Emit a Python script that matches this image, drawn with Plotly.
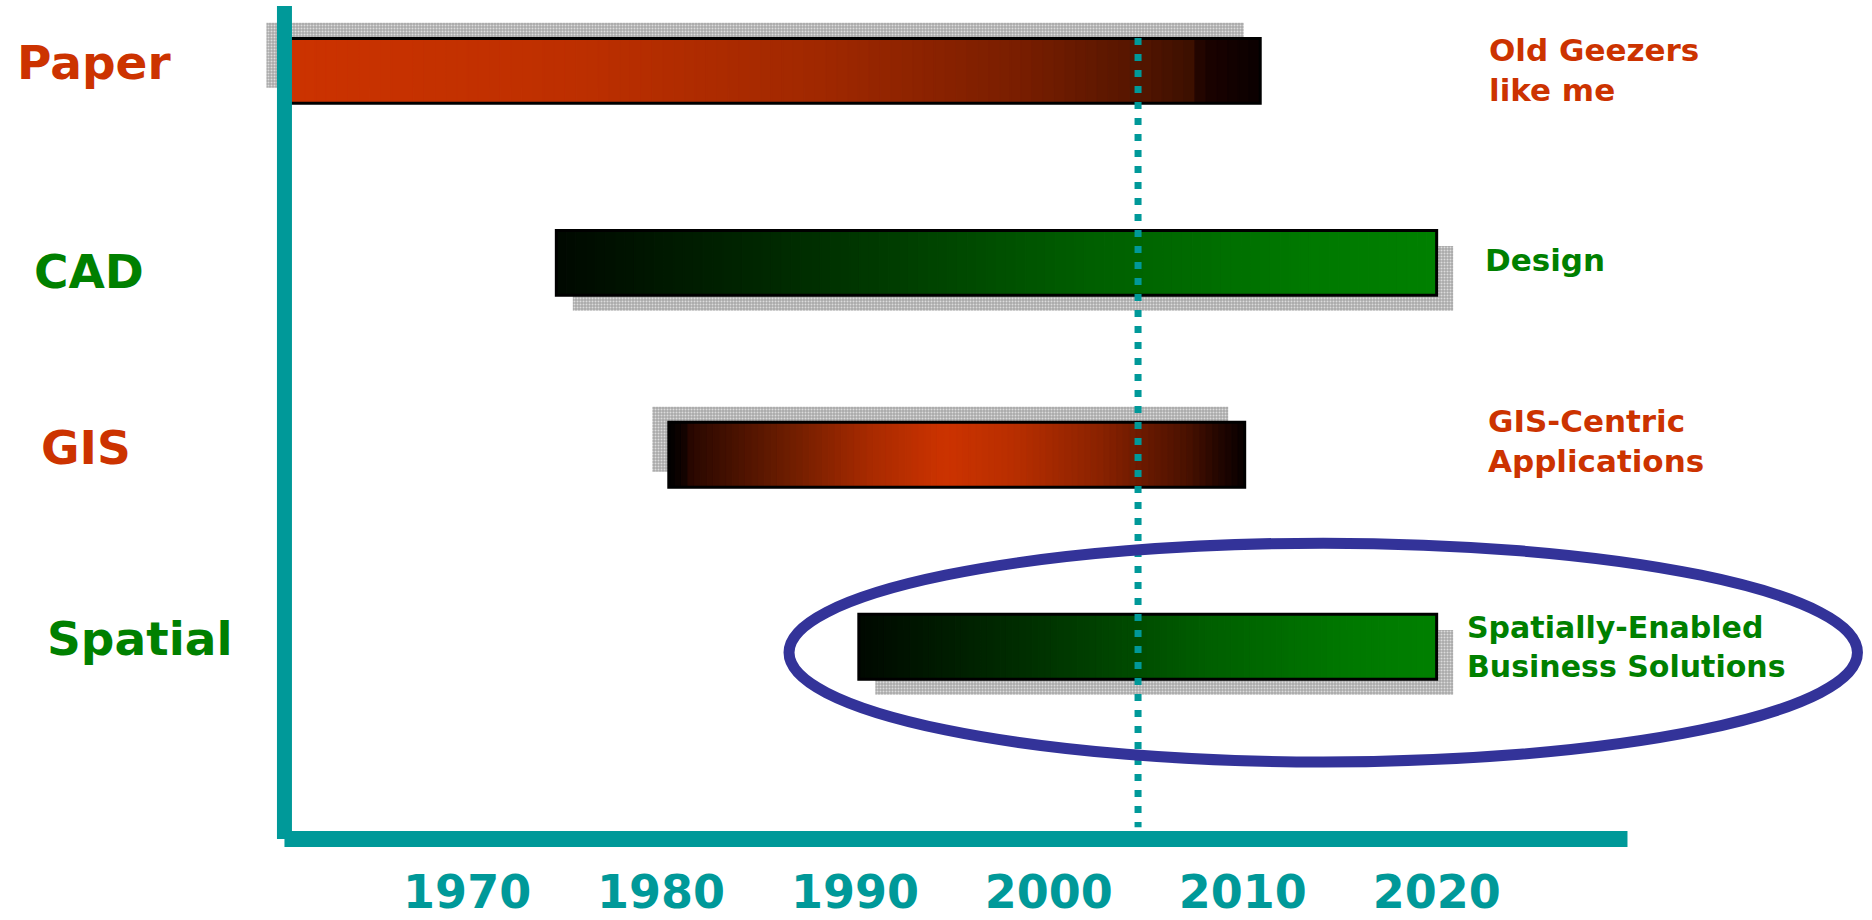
import numpy as np
import plotly.graph_objects as go
from plotly.colors import sample_colorscale

# ---------------- data ----------------
categories = ["Paper", "CAD", "GIS", "Spatial"]
start_year = [1960.5, 1974.6, 1980.4, 1990.2]
end_year = [2010.9, 2020.0, 2010.1, 2020.0]
descriptions = ["Old Geezers<br>like me", "Design",
                "GIS-Centric<br>Applications",
                "Spatially-Enabled<br>Business Solutions"]
tick_years = [1970, 1980, 1990, 2000, 2010, 2020]
tick_labels = ["1970", "1980", "1990", "2000", "2010", "2020"]
now_year = 2004.6

# ---------------- style ----------------
W, H = 1872, 920
RED, GREEN, TEAL, NAVY = "#CC3300", "#008000", "#009999", "#333399"
FONT = "DejaVu Sans"
X_RANGE = [1945.91, 2042.45]
Y_RANGE = [4.423, -0.369]          # reversed: first category on top
BAR_H = 0.338
SHADOW_DX, SHADOW_DY = 0.85, 0.081
shadow_dir = [-1, 1, -1, 1]
label_colors = [RED, GREEN, RED, GREEN]
left_x_px = [15, 32, 39, 45]
left_yshift = [8, -9, 7, 8]
right_x_px = [1487, 1483, 1486, 1465]
right_yshift = [1, 3, 14, 0]
right_size = [31, 31, 31, 30]
AXIS_X0, AXIS_X1 = 1960.58, 2029.84
AXIS_YTOP, AXIS_YBOT = -0.3375, 4.001
DOT_Y = [-0.171, 3.94]
ELLIPSE = dict(x0=1986.6, x1=2041.7, y0=2.46, y1=3.60)

red_to_black = [[0, "#CC3300"], [0.3, "#BD2F00"], [0.55, "#A02800"], [0.75, "#7A1E00"],
                [0.88, "#531500"], [0.935, "#3A0F00"], [0.94, "#1C0200"], [1, "#0A0000"]]
black_to_green = [[0, "#000800"], [0.3, "#003000"], [0.6, "#005E00"], [0.85, "#007800"],
                  [1, "#008000"]]
black_red_black = [[0, "#000000"], [0.03, "#140300"], [0.04, "#2A0800"], [0.2, "#6A1C00"],
                   [0.35, "#A82A00"], [0.48, "#CC3300"], [0.6, "#B82E00"], [0.75, "#8A2200"],
                   [0.9, "#4A1100"], [0.96, "#200500"], [1, "#080000"]]
gradients = [red_to_black, black_to_green, black_red_black, black_to_green]
N_SEG = 90

fig = go.Figure()

for i, cat in enumerate(categories):
    s, e = start_year[i], end_year[i]
    d = shadow_dir[i]
    # shadow
    fig.add_trace(go.Bar(
        orientation="h", y=[i + d * SHADOW_DY], base=[s + d * SHADOW_DX], x=[e - s],
        width=BAR_H,
        marker=dict(color="#B0B0B0",
                    pattern=dict(shape=".", bgcolor="#A9A9A9", fgcolor="#DCDCDC",
                                 size=3, solidity=0.35, fillmode="replace"),
                    line=dict(width=0)),
        hoverinfo="skip", showlegend=False))

for i, cat in enumerate(categories):
    s, e = start_year[i], end_year[i]
    edges = np.linspace(s, e, N_SEG + 1)
    t = (np.arange(N_SEG) + 0.5) / N_SEG
    cols = sample_colorscale(gradients[i], t.tolist())
    fig.add_trace(go.Bar(
        orientation="h", y=[i] * N_SEG, base=edges[:-1], x=np.diff(edges),
        width=BAR_H,
        marker=dict(color=cols, line=dict(color=cols, width=1.2)),
        hoverinfo="skip", showlegend=False, name=cat))

for i, cat in enumerate(categories):
    s, e = start_year[i], end_year[i]
    fig.add_trace(go.Bar(
        orientation="h", y=[i], base=[s], x=[e - s], width=BAR_H,
        marker=dict(color="rgba(0,0,0,0)", line=dict(color="black", width=3)),
        hoverinfo="skip", showlegend=False))

# "now" dotted line
fig.add_trace(go.Scatter(
    x=[now_year, now_year], y=DOT_Y, mode="lines",
    line=dict(color=TEAL, width=7, dash="7px,9px"),
    hoverinfo="skip", showlegend=False))

# axis lines
fig.add_shape(type="line", xref="x", yref="y", x0=AXIS_X0, x1=AXIS_X0,
              y0=AXIS_YTOP, y1=AXIS_YBOT, line=dict(color=TEAL, width=15))
fig.add_shape(type="line", xref="x", yref="y", x0=AXIS_X0, x1=AXIS_X1,
              y0=AXIS_YBOT, y1=AXIS_YBOT, line=dict(color=TEAL, width=16))
# highlight ellipse
fig.add_shape(type="circle", xref="x", yref="y", line=dict(color=NAVY, width=11),
              fillcolor="rgba(0,0,0,0)", layer="above", **ELLIPSE)

for i, cat in enumerate(categories):
    fig.add_annotation(text=cat, xref="paper", yref="y", x=left_x_px[i] / W, y=i,
                       xanchor="left", yanchor="middle", yshift=left_yshift[i],
                       showarrow=False,
                       font=dict(family=FONT, size=47, color=label_colors[i], weight="bold"))
    fig.add_annotation(text=descriptions[i], xref="paper", yref="y", x=right_x_px[i] / W,
                       y=i, xanchor="left", yanchor="middle", yshift=right_yshift[i],
                       align="left", showarrow=False,
                       font=dict(family=FONT, size=right_size[i], color=label_colors[i],
                                 weight="bold"))

fig.update_layout(
    width=W, height=H, margin=dict(l=0, r=0, t=0, b=0),
    paper_bgcolor="white", plot_bgcolor="white", barmode="overlay",
    xaxis=dict(range=X_RANGE, showgrid=False, zeroline=False, showline=False,
               tickmode="array", tickvals=tick_years, ticktext=tick_labels,
               ticks="", ticklabelposition="inside",
               tickfont=dict(family=FONT, size=46, color=TEAL, weight="bold")),
    yaxis=dict(range=Y_RANGE, visible=False),
)

fig.write_html("out.html")
